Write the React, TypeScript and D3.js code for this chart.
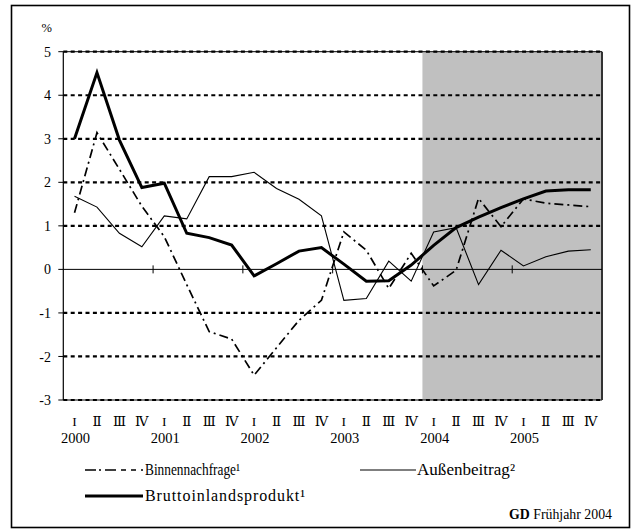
import React from "react";
import * as d3 from "d3";

const years = ["2000", "2001", "2002", "2003", "2004", "2005"];
const quarterNames = ["I", "Ⅱ", "Ⅲ", "Ⅳ"];
const quarters = years.flatMap((y) => quarterNames.map((q) => `${y}-${q}`));

const binnennachfrage = [1.3, 3.14, 2.3, 1.45, 0.75, -0.35, -1.43, -1.6, -2.43, -1.8, -1.17, -0.71, 0.86, 0.44, -0.44, 0.37, -0.38, -0.02, 1.63, 0.98, 1.62, 1.52, 1.48, 1.44];
const aussenbeitrag = [1.68, 1.43, 0.83, 0.52, 1.23, 1.16, 2.13, 2.13, 2.23, 1.86, 1.61, 1.23, -0.71, -0.67, 0.19, -0.27, 0.86, 0.96, -0.35, 0.44, 0.08, 0.29, 0.42, 0.45];
const bip = [3.0, 4.52, 2.97, 1.88, 1.98, 0.83, 0.73, 0.56, -0.15, 0.13, 0.42, 0.5, 0.12, -0.27, -0.26, 0.1, 0.55, 0.96, 1.2, 1.42, 1.62, 1.8, 1.83, 1.83];
const yTicks = [-3, -2, -1, 0, 1, 2, 3, 4, 5];
const forecastStart = "2004-I";

const serif = "'Liberation Serif', 'Times New Roman', 'DejaVu Serif', serif";

export default function App() {
  const left = 63.3;
  const right = 602;
  const top = 51.7;
  const bottom = 400;

  const x = d3.scaleBand<string>().domain(quarters).range([left, right]);
  const y = d3.scaleLinear().domain([-3, 5]).range([bottom, top]);
  const cx = (i: number) => (x(quarters[i]) as number) + x.bandwidth() / 2;

  const line = d3
    .line<number>()
    .x((_, i) => cx(i))
    .y((d) => y(d));

  const shadeX = x(forecastStart) as number;
  const yearTickIdx = [4, 8, 12, 16, 20];

  return (
    <svg
      width={631}
      height={529}
      style={{ position: "absolute", left: 0, top: 0, background: "#fff" }}
      fontFamily={serif}
    >
      {/* outer frame */}
      <rect x={11.5} y={5.5} width={618} height={522} fill="#fff" stroke="#000" strokeWidth={1.6} />

      {/* forecast shading */}
      <rect x={shadeX} y={top} width={right - shadeX} height={bottom - top} fill="#C0C0C0" />

      {/* plot border */}
      <line x1={left} x2={right} y1={top} y2={top} stroke="#000" strokeWidth={1} />
      <line x1={left} x2={right} y1={bottom} y2={bottom} stroke="#000" strokeWidth={1} />
      <line x1={right} x2={right} y1={top} y2={bottom} stroke="#333" strokeWidth={2} />

      {/* gridlines */}
      {yTicks
        .filter((t) => t !== 0)
        .map((t) => (
          <line
            key={t}
            x1={left}
            x2={right}
            y1={y(t)}
            y2={y(t)}
            stroke="#000"
            strokeWidth={2.2}
            strokeDasharray="4,3.4"
          />
        ))}

      {/* zero line */}
      <line x1={left} x2={right} y1={y(0)} y2={y(0)} stroke="#000" strokeWidth={1} />
      {yearTickIdx.map((i) => {
        const xx = x(quarters[i]) as number;
        return <line key={i} x1={xx} x2={xx} y1={y(0) - 4} y2={y(0) + 4} stroke="#000" strokeWidth={1} />;
      })}

      {/* y axis */}
      <line x1={left} x2={left} y1={top} y2={bottom} stroke="#000" strokeWidth={1.2} />
      {yTicks.map((t) => (
        <g key={t}>
          <line x1={left - 5} x2={left} y1={y(t)} y2={y(t)} stroke="#000" strokeWidth={1} />
          <text x={51} y={y(t)} dy="0.36em" textAnchor="end" fontSize={14}>
            {t}
          </text>
        </g>
      ))}
      <text x={52} y={32} textAnchor="end" fontSize={12.5}>
        %
      </text>

      {/* series */}
      <path d={line(aussenbeitrag) || ""} fill="none" stroke="#000" strokeWidth={1.1} />
      <path
        d={line(binnennachfrage) || ""}
        fill="none"
        stroke="#000"
        strokeWidth={1.7}
        strokeDasharray="9,4,2,4"
      />
      <path d={line(bip) || ""} fill="none" stroke="#000" strokeWidth={3} strokeLinejoin="miter" />

      {/* x labels */}
      {quarters.map((q, i) => (
        <text key={q} x={cx(i)} y={426} textAnchor="middle" fontSize={13.5}>
          {quarterNames[i % 4]}
        </text>
      ))}
      {years.map((yr, j) => (
        <text key={yr} x={cx(j * 4) + 1} y={443} textAnchor="middle" fontSize={14.5}>
          {yr}
        </text>
      ))}

      {/* legend */}
      <line x1={85} x2={143} y1={470} y2={470} stroke="#000" strokeWidth={1.6} strokeDasharray="11,3,2,4,11,5,5,5,5,5" />
      <text x={145} y={475} fontSize={16} textLength={95} lengthAdjust="spacingAndGlyphs">
        Binnennachfrage¹
      </text>
      <line x1={360} x2={416} y1={470} y2={470} stroke="#000" strokeWidth={1.1} />
      <text x={417} y={475} fontSize={16} textLength={98} lengthAdjust="spacingAndGlyphs">
        Außenbeitrag²
      </text>
      <line x1={85} x2={143} y1={496} y2={496} stroke="#000" strokeWidth={3} />
      <text x={145} y={501} fontSize={16} textLength={160} lengthAdjust="spacing">
        Bruttoinlandsprodukt¹
      </text>

      {/* source */}
      <text x={509} y={519} fontSize={15} textLength={103} lengthAdjust="spacingAndGlyphs">
        <tspan fontWeight="bold">GD</tspan> Frühjahr 2004
      </text>
    </svg>
  );
}
